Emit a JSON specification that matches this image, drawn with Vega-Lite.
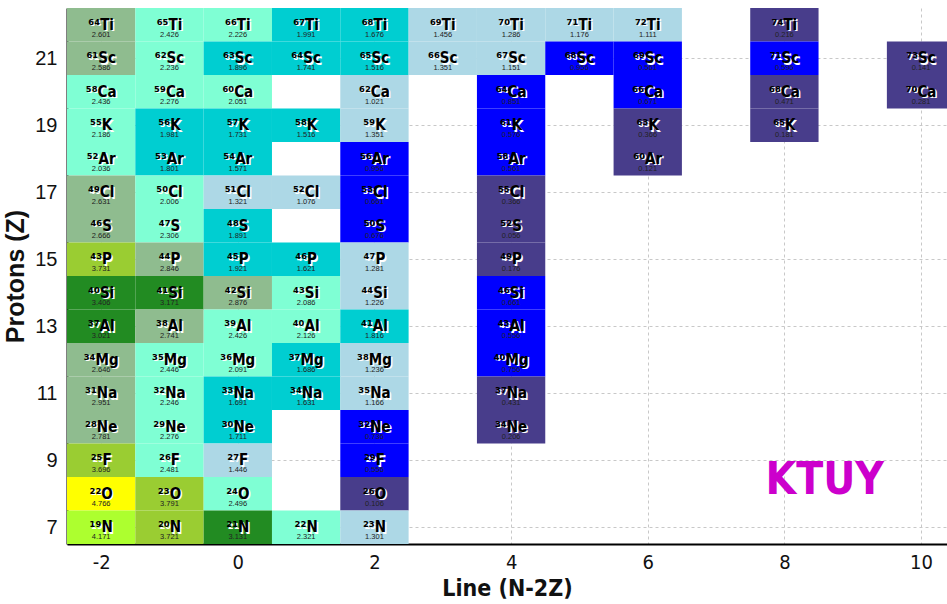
{
  "$schema": "https://vega.github.io/schema/vega-lite/v6.json",
  "width": 880,
  "height": 536,
  "autosize": {"type": "none"},
  "padding": {"left": 67, "top": 8, "right": 0, "bottom": 60},
  "background": "white",
  "config": {
    "view": {"stroke": null},
    "axis": {"gridColor": "#c8c8c8", "gridDash": [3, 3], "gridWidth": 1, "domainColor": "black", "domainWidth": 2, "ticks": false, "labelColor": "#111", "titleColor": "#111"}
  },
  "datasets": {
    "cells": [
      {"x": -2, "z": 22, "lab": "⁶⁴Ti", "v": 2.601},
      {"x": -1, "z": 22, "lab": "⁶⁵Ti", "v": 2.426},
      {"x": 0, "z": 22, "lab": "⁶⁶Ti", "v": 2.226},
      {"x": 1, "z": 22, "lab": "⁶⁷Ti", "v": 1.991},
      {"x": 2, "z": 22, "lab": "⁶⁸Ti", "v": 1.676},
      {"x": 3, "z": 22, "lab": "⁶⁹Ti", "v": 1.456},
      {"x": 4, "z": 22, "lab": "⁷⁰Ti", "v": 1.286},
      {"x": 5, "z": 22, "lab": "⁷¹Ti", "v": 1.176},
      {"x": 6, "z": 22, "lab": "⁷²Ti", "v": 1.111},
      {"x": 8, "z": 22, "lab": "⁷⁴Ti", "v": 0.216},
      {"x": -2, "z": 21, "lab": "⁶¹Sc", "v": 2.586},
      {"x": -1, "z": 21, "lab": "⁶²Sc", "v": 2.236},
      {"x": 0, "z": 21, "lab": "⁶³Sc", "v": 1.896},
      {"x": 1, "z": 21, "lab": "⁶⁴Sc", "v": 1.741},
      {"x": 2, "z": 21, "lab": "⁶⁵Sc", "v": 1.516},
      {"x": 3, "z": 21, "lab": "⁶⁶Sc", "v": 1.351},
      {"x": 4, "z": 21, "lab": "⁶⁷Sc", "v": 1.151},
      {"x": 5, "z": 21, "lab": "⁶⁸Sc", "v": 0.956},
      {"x": 6, "z": 21, "lab": "⁶⁹Sc", "v": 0.561},
      {"x": 8, "z": 21, "lab": "⁷¹Sc", "v": 0.596},
      {"x": 10, "z": 21, "lab": "⁷³Sc", "v": 0.141},
      {"x": -2, "z": 20, "lab": "⁵⁸Ca", "v": 2.436},
      {"x": -1, "z": 20, "lab": "⁵⁹Ca", "v": 2.276},
      {"x": 0, "z": 20, "lab": "⁶⁰Ca", "v": 2.051},
      {"x": 2, "z": 20, "lab": "⁶²Ca", "v": 1.021},
      {"x": 4, "z": 20, "lab": "⁶⁴Ca", "v": 0.851},
      {"x": 6, "z": 20, "lab": "⁶⁶Ca", "v": 0.671},
      {"x": 8, "z": 20, "lab": "⁶⁸Ca", "v": 0.471},
      {"x": 10, "z": 20, "lab": "⁷⁰Ca", "v": 0.281},
      {"x": -2, "z": 19, "lab": "⁵⁵K", "v": 2.186},
      {"x": -1, "z": 19, "lab": "⁵⁶K", "v": 1.981},
      {"x": 0, "z": 19, "lab": "⁵⁷K", "v": 1.731},
      {"x": 1, "z": 19, "lab": "⁵⁸K", "v": 1.516},
      {"x": 2, "z": 19, "lab": "⁵⁹K", "v": 1.351},
      {"x": 4, "z": 19, "lab": "⁶¹K", "v": 0.576},
      {"x": 6, "z": 19, "lab": "⁶³K", "v": 0.366},
      {"x": 8, "z": 19, "lab": "⁶⁵K", "v": 0.181},
      {"x": -2, "z": 18, "lab": "⁵²Ar", "v": 2.036},
      {"x": -1, "z": 18, "lab": "⁵³Ar", "v": 1.801},
      {"x": 0, "z": 18, "lab": "⁵⁴Ar", "v": 1.571},
      {"x": 2, "z": 18, "lab": "⁵⁶Ar", "v": 0.956},
      {"x": 4, "z": 18, "lab": "⁵⁸Ar", "v": 0.561},
      {"x": 6, "z": 18, "lab": "⁶⁰Ar", "v": 0.121},
      {"x": -2, "z": 17, "lab": "⁴⁹Cl", "v": 2.631},
      {"x": -1, "z": 17, "lab": "⁵⁰Cl", "v": 2.006},
      {"x": 0, "z": 17, "lab": "⁵¹Cl", "v": 1.321},
      {"x": 1, "z": 17, "lab": "⁵²Cl", "v": 1.076},
      {"x": 2, "z": 17, "lab": "⁵³Cl", "v": 0.661},
      {"x": 4, "z": 17, "lab": "⁵⁵Cl", "v": 0.366},
      {"x": -2, "z": 16, "lab": "⁴⁶S", "v": 2.666},
      {"x": -1, "z": 16, "lab": "⁴⁷S", "v": 2.306},
      {"x": 0, "z": 16, "lab": "⁴⁸S", "v": 1.891},
      {"x": 2, "z": 16, "lab": "⁵⁰S", "v": 0.676},
      {"x": 4, "z": 16, "lab": "⁵²S", "v": 0.056},
      {"x": -2, "z": 15, "lab": "⁴³P", "v": 3.731},
      {"x": -1, "z": 15, "lab": "⁴⁴P", "v": 2.846},
      {"x": 0, "z": 15, "lab": "⁴⁵P", "v": 1.921},
      {"x": 1, "z": 15, "lab": "⁴⁶P", "v": 1.621},
      {"x": 2, "z": 15, "lab": "⁴⁷P", "v": 1.281},
      {"x": 4, "z": 15, "lab": "⁴⁹P", "v": 0.176},
      {"x": -2, "z": 14, "lab": "⁴⁰Si", "v": 3.406},
      {"x": -1, "z": 14, "lab": "⁴¹Si", "v": 3.171},
      {"x": 0, "z": 14, "lab": "⁴²Si", "v": 2.876},
      {"x": 1, "z": 14, "lab": "⁴³Si", "v": 2.086},
      {"x": 2, "z": 14, "lab": "⁴⁴Si", "v": 1.226},
      {"x": 4, "z": 14, "lab": "⁴⁶Si", "v": 0.661},
      {"x": -2, "z": 13, "lab": "³⁷Al", "v": 3.021},
      {"x": -1, "z": 13, "lab": "³⁸Al", "v": 2.741},
      {"x": 0, "z": 13, "lab": "³⁹Al", "v": 2.426},
      {"x": 1, "z": 13, "lab": "⁴⁰Al", "v": 2.126},
      {"x": 2, "z": 13, "lab": "⁴¹Al", "v": 1.816},
      {"x": 3, "z": 13, "lab": null, "v": null},
      {"x": 4, "z": 13, "lab": "⁴³Al", "v": 0.556},
      {"x": -2, "z": 12, "lab": "³⁴Mg", "v": 2.646},
      {"x": -1, "z": 12, "lab": "³⁵Mg", "v": 2.446},
      {"x": 0, "z": 12, "lab": "³⁶Mg", "v": 2.091},
      {"x": 1, "z": 12, "lab": "³⁷Mg", "v": 1.686},
      {"x": 2, "z": 12, "lab": "³⁸Mg", "v": 1.236},
      {"x": 4, "z": 12, "lab": "⁴⁰Mg", "v": 0.756},
      {"x": -2, "z": 11, "lab": "³¹Na", "v": 2.951},
      {"x": -1, "z": 11, "lab": "³²Na", "v": 2.246},
      {"x": 0, "z": 11, "lab": "³³Na", "v": 1.691},
      {"x": 1, "z": 11, "lab": "³⁴Na", "v": 1.631},
      {"x": 2, "z": 11, "lab": "³⁵Na", "v": 1.166},
      {"x": 4, "z": 11, "lab": "³⁷Na", "v": 0.431},
      {"x": -2, "z": 10, "lab": "²⁸Ne", "v": 2.781},
      {"x": -1, "z": 10, "lab": "²⁹Ne", "v": 2.276},
      {"x": 0, "z": 10, "lab": "³⁰Ne", "v": 1.711},
      {"x": 1, "z": 10, "lab": null, "v": null},
      {"x": 2, "z": 10, "lab": "³²Ne", "v": 0.736},
      {"x": 4, "z": 10, "lab": "³⁴Ne", "v": 0.206},
      {"x": -2, "z": 9, "lab": "²⁵F", "v": 3.696},
      {"x": -1, "z": 9, "lab": "²⁶F", "v": 2.481},
      {"x": 0, "z": 9, "lab": "²⁷F", "v": 1.446},
      {"x": 2, "z": 9, "lab": "²⁹F", "v": 0.556},
      {"x": 4, "z": 9, "lab": null, "v": null},
      {"x": -2, "z": 8, "lab": "²²O", "v": 4.766},
      {"x": -1, "z": 8, "lab": "²³O", "v": 3.791},
      {"x": 0, "z": 8, "lab": "²⁴O", "v": 2.496},
      {"x": 2, "z": 8, "lab": "²⁶O", "v": 0.106},
      {"x": -2, "z": 7, "lab": "¹⁹N", "v": 4.171},
      {"x": -1, "z": 7, "lab": "²⁰N", "v": 3.721},
      {"x": 0, "z": 7, "lab": "²¹N", "v": 3.131},
      {"x": 1, "z": 7, "lab": "²²N", "v": 2.321},
      {"x": 2, "z": 7, "lab": "²³N", "v": 1.301}
    ],
    "note": [{"x": 8.59, "z": 8.38, "t": "KTUY"}]
  },
  "layer": [
    {
      "data": {"name": "cells"},
      "transform": [
        {"calculate": "datum.x - 0.5", "as": "x0"},
        {"calculate": "datum.x + 0.5", "as": "x1"},
        {"calculate": "datum.z - 0.5", "as": "z0"},
        {"calculate": "datum.z + 0.5", "as": "z1"}
      ],
      "mark": {"type": "rect", "clip": true},
      "encoding": {
        "x": {"field": "x0", "type": "quantitative", "title": "Line (N-2Z)",
          "scale": {"domain": [-2.5, 10.38], "nice": false, "zero": false},
          "axis": {"values": [-2, 0, 2, 4, 6, 8, 10], "labelExpr": "'' + datum.value", "labelFont": "DejaVu Sans Condensed, Liberation Sans, sans-serif", "labelFontSize": 20, "labelPadding": 8, "titleFont": "DejaVu Sans Condensed, Liberation Sans, sans-serif", "titleFontSize": 23, "titleFontWeight": "bold", "titlePadding": 5, "grid": true}},
        "x2": {"field": "x1"},
        "y": {"field": "z0", "type": "quantitative", "title": "Protons (Z)",
          "scale": {"domain": [6.5, 22.5], "nice": false, "zero": false},
          "axis": {"values": [7, 9, 11, 13, 15, 17, 19, 21], "labelFont": "Liberation Sans, sans-serif", "labelFontSize": 20, "labelPadding": 10, "titleFont": "Liberation Sans, sans-serif", "titleFontSize": 25, "titleFontWeight": "bold", "titlePadding": 6, "grid": true}},
        "y2": {"field": "z1"},
        "color": {
          "condition": {"test": "datum.v === null", "value": "#ececec"},
          "field": "v", "type": "quantitative",
          "scale": {"type": "threshold", "domain": [0.5, 1, 1.5, 2, 2.5, 3, 3.5, 4, 4.5],
            "range": ["#483D8B", "#0000FF", "#ADD8E6", "#00CED1", "#7FFFD4", "#8FBC8F", "#228B22", "#9ACD32", "#ADFF2F", "#FFFF00"]},
          "legend": null
        }
      }
    },
    {
      "data": {"name": "cells"},
      "transform": [{"filter": "datum.v !== null"}],
      "mark": {"type": "text", "font": "DejaVu Sans Condensed, DejaVu Sans, sans-serif", "fontWeight": "bold", "fontSize": 15, "baseline": "alphabetic", "color": "white", "dx": 1.5, "dy": 6.5},
      "encoding": {
        "x": {"field": "x", "type": "quantitative", "title": "Line (N-2Z)"},
        "y": {"field": "z", "type": "quantitative", "title": "Protons (Z)"},
        "text": {"field": "lab"}
      }
    },
    {
      "data": {"name": "cells"},
      "transform": [{"filter": "datum.v !== null"}],
      "mark": {"type": "text", "font": "DejaVu Sans Condensed, DejaVu Sans, sans-serif", "fontWeight": "bold", "fontSize": 15, "baseline": "alphabetic", "color": "black", "dy": 5},
      "encoding": {
        "x": {"field": "x", "type": "quantitative", "title": "Line (N-2Z)"},
        "y": {"field": "z", "type": "quantitative", "title": "Protons (Z)"},
        "text": {"field": "lab"}
      }
    },
    {
      "data": {"name": "cells"},
      "transform": [{"filter": "datum.v !== null"}],
      "mark": {"type": "text", "font": "Liberation Sans, sans-serif", "fontSize": 7.5, "baseline": "middle", "color": "#222", "dy": 10},
      "encoding": {
        "x": {"field": "x", "type": "quantitative", "title": "Line (N-2Z)"},
        "y": {"field": "z", "type": "quantitative", "title": "Protons (Z)"},
        "text": {"field": "v", "format": ".3f"}
      }
    },
    {
      "data": {"name": "note"},
      "mark": {"type": "text", "font": "DejaVu Sans Condensed, Liberation Sans, sans-serif", "fontWeight": "bold", "fontSize": 44, "baseline": "middle", "color": "#CC00CC"},
      "encoding": {
        "x": {"field": "x", "type": "quantitative", "title": "Line (N-2Z)"},
        "y": {"field": "z", "type": "quantitative", "title": "Protons (Z)"},
        "text": {"field": "t"}
      }
    },
    {
      "mark": {"type": "rule", "color": "black", "strokeWidth": 2},
      "encoding": {"y": {"datum": 22.5, "type": "quantitative"}}
    }
  ]
}
